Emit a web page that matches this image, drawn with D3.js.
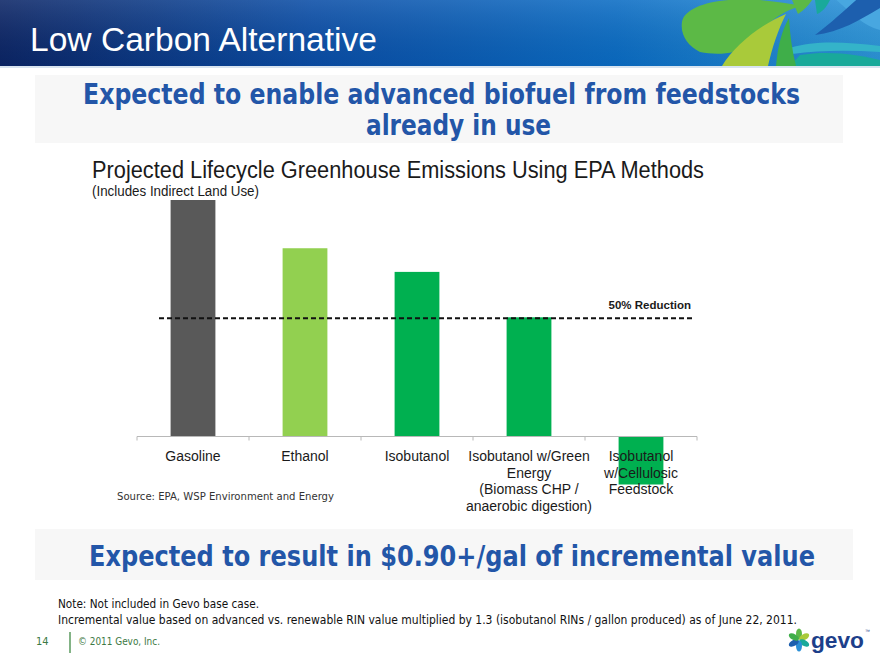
<!DOCTYPE html>
<html>
<head>
<meta charset="utf-8">
<script src="https://cdn.jsdelivr.net/npm/d3@7"></script>
<style>
  html, body { margin: 0; padding: 0; background: #fff; }
  svg { display: block; }
</style>
</head>
<body>
<div id="chart"></div>
<script>
// ---- data ----
const categories = [
  ["Gasoline"],
  ["Ethanol"],
  ["Isobutanol"],
  ["Isobutanol w/Green", "Energy", "(Biomass CHP /", "anaerobic digestion)"],
  ["Isobutanol", "w/Cellulosic", "Feedstock"]
];
const categoryKeys = ["Gasoline", "Ethanol", "Isobutanol", "Isobutanol w/Green Energy", "Isobutanol w/Cellulosic Feedstock"];
const emissions = [100, 79.6, 69.6, 50.4, -20.3];   // % of gasoline lifecycle GHG
const barColors = ["#595959", "#92D050", "#00B050", "#00B050", "#00B050"];
const reductionLevel = 50;
const reductionLabel = "50% Reduction";

const W = 880, H = 660;
const svg = d3.select("#chart").append("svg").attr("width", W).attr("height", H)
  .style("font-family", "'Liberation Sans', Arial, sans-serif");

const defs = svg.append("defs");
const hg = defs.append("linearGradient").attr("id", "hdr").attr("x1", 0).attr("x2", 1).attr("y1", 0).attr("y2", 0);
hg.append("stop").attr("offset", "0%").attr("stop-color", "#0b2566");
hg.append("stop").attr("offset", "35%").attr("stop-color", "#0a4da6");
hg.append("stop").attr("offset", "70%").attr("stop-color", "#0a6cc4");
hg.append("stop").attr("offset", "100%").attr("stop-color", "#2b94d8");
const hv = defs.append("linearGradient").attr("id", "hdrv").attr("x1", 0).attr("x2", 0).attr("y1", 0).attr("y2", 1);
hv.append("stop").attr("offset", "0%").attr("stop-color", "#ffffff").attr("stop-opacity", 0.12);
hv.append("stop").attr("offset", "100%").attr("stop-color", "#000000").attr("stop-opacity", 0.05);
defs.append("clipPath").attr("id", "hclip").append("rect").attr("x", 0).attr("y", 0).attr("width", W).attr("height", 66);

// ---- header ----
svg.append("rect").attr("x", 0).attr("y", 0).attr("width", W).attr("height", 66).attr("fill", "url(#hdr)");
svg.append("rect").attr("x", 0).attr("y", 0).attr("width", W).attr("height", 66).attr("fill", "url(#hdrv)");
const logo = svg.append("g").attr("clip-path", "url(#hclip)");
logo.append("path").attr("d", "M830,-5 C850,10 860,25 880,30 L880,-5 Z").attr("fill", "#48a7e0");
logo.append("path").attr("d", "M815,35 C835,20 850,5 862,-5 L880,-5 L880,8 C860,20 840,32 815,35 Z").attr("fill", "#1d5fae");
logo.append("path").attr("d", "M800,55 C830,50 860,55 880,60 L880,66 L790,66 Z").attr("fill", "#19a99a");
logo.append("path").attr("d", "M790,48 C815,40 845,42 880,46 L880,52 C850,50 820,50 792,54 Z").attr("fill", "#34b3c9");
logo.append("path").attr("d", "M682,22 C685,5 720,-3 760,0 C780,2 795,4 800,6 C775,14 760,30 750,45 C735,55 715,55 700,52 C688,46 680,35 682,22 Z").attr("fill", "#5cb946");
logo.append("path").attr("d", "M722,66 C735,45 760,25 786,14 C778,30 772,48 768,66 Z").attr("fill", "#a9ca3a");
logo.append("path").attr("d", "M776,66 C778,45 782,30 789,18 C790,35 792,50 796,66 Z").attr("fill", "#3fae49");
logo.append("path").attr("d", "M792,0 L812,0 C808,6 804,10 798,14 Z").attr("fill", "#5cb946");
logo.append("path").attr("d", "M815,0 L830,0 C826,8 822,12 817,14 Z").attr("fill", "#19a99a");
svg.append("rect").attr("x", 0).attr("y", 66).attr("width", W).attr("height", 2).attr("fill", "#d8e4f0");

svg.append("text").attr("x", 30).attr("y", 51)
  .attr("font-family", "'Liberation Sans Narrow', 'Liberation Sans', Arial, sans-serif")
  .attr("font-size", 33).attr("fill", "#fff")
  .attr("textLength", 347).attr("lengthAdjust", "spacingAndGlyphs")
  .text("Low Carbon Alternative");

// ---- top callout box ----
svg.append("rect").attr("x", 35).attr("y", 75).attr("width", 808).attr("height", 68).attr("fill", "#f7f7f7");
const blue = "#2356a8";
svg.append("text").attr("x", 441.5).attr("y", 104).attr("text-anchor", "middle")
  .attr("font-family", "'DejaVu Sans Condensed', 'DejaVu Sans', sans-serif").attr("font-weight", "bold")
  .attr("font-size", 29).attr("fill", blue)
  .attr("textLength", 717).attr("lengthAdjust", "spacingAndGlyphs")
  .text("Expected to enable advanced biofuel from feedstocks");
svg.append("text").attr("x", 458.5).attr("y", 135).attr("text-anchor", "middle")
  .attr("font-family", "'DejaVu Sans Condensed', 'DejaVu Sans', sans-serif").attr("font-weight", "bold")
  .attr("font-size", 29).attr("fill", blue)
  .attr("textLength", 185).attr("lengthAdjust", "spacingAndGlyphs")
  .text("already in use");

// ---- chart titles ----
svg.append("text").attr("x", 92).attr("y", 178)
  .attr("font-size", 23).attr("fill", "#1a1a1a")
  .attr("textLength", 612).attr("lengthAdjust", "spacingAndGlyphs")
  .text("Projected Lifecycle Greenhouse Emissions Using EPA Methods");
svg.append("text").attr("x", 92).attr("y", 196)
  .attr("font-size", 14).attr("fill", "#1a1a1a")
  .attr("textLength", 167).attr("lengthAdjust", "spacingAndGlyphs")
  .text("(Includes Indirect Land Use)");

// ---- chart ----
const x = d3.scaleBand().domain(categoryKeys).range([137, 697]).paddingInner(0.6).paddingOuter(0.3);
const y = d3.scaleLinear().domain([0, 100]).range([436.5, 200]);

const g = svg.append("g");
g.selectAll("rect.bar").data(emissions).join("rect").attr("class", "bar")
  .attr("x", (d, i) => x(categoryKeys[i]))
  .attr("width", x.bandwidth())
  .attr("y", d => y(Math.max(0, d)))
  .attr("height", d => Math.abs(y(d) - y(0)))
  .attr("fill", (d, i) => barColors[i]);

// axis
const axis = d3.axisBottom(x).tickSize(0).tickFormat("");
const ag = g.append("g").attr("transform", `translate(0,${y(0)})`).call(axis);
ag.select(".domain").attr("stroke", "#b8b8b8").attr("d", "M137,0H697");
const tickXs = d3.range(categoryKeys.length + 1).map(i => 137 + i * x.step());
ag.selectAll("line.tk").data(tickXs).join("line").attr("class", "tk")
  .attr("x1", d => d).attr("x2", d => d).attr("y1", 0).attr("y2", 4)
  .attr("stroke", "#b8b8b8");

// category labels
const lab = g.append("g").attr("font-family", "'Liberation Sans Narrow', 'Liberation Sans', Arial, sans-serif")
  .attr("font-size", 14).attr("fill", "#1a1a1a");
categories.forEach((lines, i) => {
  const t = lab.append("text").attr("text-anchor", "middle")
    .attr("x", x(categoryKeys[i]) + x.bandwidth() / 2).attr("y", 461);
  lines.forEach((ln, j) => {
    t.append("tspan").attr("x", x(categoryKeys[i]) + x.bandwidth() / 2).attr("dy", j === 0 ? 0 : 16.7).text(ln);
  });
});

// reduction line
g.append("line").attr("x1", 159).attr("x2", 693).attr("y1", y(reductionLevel)).attr("y2", y(reductionLevel))
  .attr("stroke", "#111").attr("stroke-width", 1.8).attr("stroke-dasharray", "5,3");
g.append("text").attr("x", 691).attr("y", y(reductionLevel) - 9).attr("text-anchor", "end")
  .attr("font-size", 11.5).attr("font-weight", "bold").attr("fill", "#1a1a1a")
  .text(reductionLabel);

// source
svg.append("text").attr("x", 117).attr("y", 500)
  .attr("font-family", "'DejaVu Sans Condensed', 'DejaVu Sans', sans-serif")
  .attr("font-size", 10.5).attr("fill", "#333")
  .attr("textLength", 217).attr("lengthAdjust", "spacingAndGlyphs")
  .text("Source: EPA, WSP Environment and Energy");

// ---- bottom callout ----
svg.append("rect").attr("x", 35).attr("y", 529).attr("width", 818).attr("height", 51).attr("fill", "#f7f7f7");
svg.append("text").attr("x", 452).attr("y", 566).attr("text-anchor", "middle")
  .attr("font-family", "'DejaVu Sans Condensed', 'DejaVu Sans', sans-serif").attr("font-weight", "bold")
  .attr("font-size", 29).attr("fill", blue)
  .attr("textLength", 726).attr("lengthAdjust", "spacingAndGlyphs")
  .text("Expected to result in $0.90+/gal of incremental value");

// ---- notes ----
svg.append("text").attr("x", 58).attr("y", 608)
  .attr("font-family", "'DejaVu Sans Condensed', 'DejaVu Sans', sans-serif")
  .attr("font-size", 13).attr("fill", "#111")
  .attr("textLength", 201).attr("lengthAdjust", "spacingAndGlyphs")
  .text("Note: Not included in Gevo base case.");
svg.append("text").attr("x", 58).attr("y", 624)
  .attr("font-family", "'DejaVu Sans Condensed', 'DejaVu Sans', sans-serif")
  .attr("font-size", 13).attr("fill", "#111")
  .attr("textLength", 739).attr("lengthAdjust", "spacingAndGlyphs")
  .text("Incremental value based on advanced vs. renewable RIN value multiplied by 1.3 (isobutanol RINs / gallon produced) as of June 22, 2011.");

// ---- footer ----
const green = "#3d7a45";
svg.append("text").attr("x", 36).attr("y", 645).attr("font-size", 11).attr("fill", green)
  .attr("font-family", "'DejaVu Sans Condensed', 'DejaVu Sans', sans-serif").text("14");
svg.append("line").attr("x1", 70).attr("x2", 70).attr("y1", 632).attr("y2", 653).attr("stroke", "#5a9a5e").attr("stroke-width", 1.5);
svg.append("text").attr("x", 78).attr("y", 645).attr("font-size", 11).attr("fill", green)
  .attr("font-family", "'DejaVu Sans Condensed', 'DejaVu Sans', sans-serif")
  .attr("textLength", 82).attr("lengthAdjust", "spacingAndGlyphs").text("© 2011 Gevo, Inc.");

// gevo logo
const gl = svg.append("g").attr("transform", "translate(799,640)");
const petals = ["#5cb946", "#a9ca3a", "#19a99a", "#2a8fd6", "#1d5fae", "#3fae49"];
petals.forEach((c, i) => {
  gl.append("ellipse").attr("cx", 0).attr("cy", -6).attr("rx", 3).attr("ry", 5.5)
    .attr("fill", c).attr("transform", `rotate(${i * 60})`);
});
svg.append("text").attr("x", 811).attr("y", 648).attr("font-size", 22).attr("font-weight", "bold")
  .attr("fill", "#1d3f8a").attr("font-family", "'Liberation Sans', Arial, sans-serif")
  .attr("textLength", 53).attr("lengthAdjust", "spacingAndGlyphs").text("gevo");
svg.append("text").attr("x", 865).attr("y", 633).attr("font-size", 5).attr("fill", "#1d3f8a").text("™");
</script>
</body>
</html>
